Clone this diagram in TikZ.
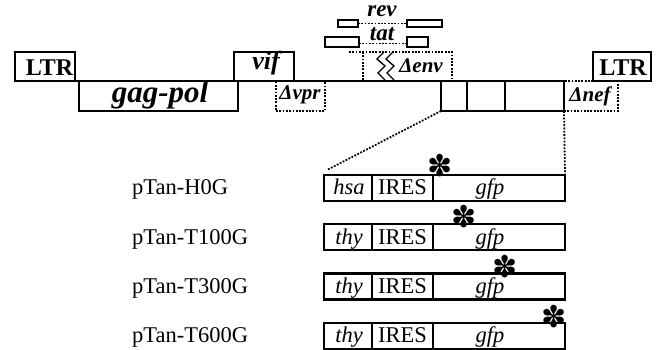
\documentclass[tikz,border=0pt]{standalone}
\usepackage{fontspec}
\setmainfont{Liberation Serif}
\newfontfamily\symfont{DejaVu Sans}
\newcommand\boxat[6]{\node[#6, minimum width={#4-#2}, minimum height={#5-#3}] (#1) at ({(#2+#4)/2},{(#3+#5)/2}) {};}
\begin{document}
\begin{tikzpicture}[x=1pt,y=-1pt,
  gbox/.style={draw, line width=2.3pt, inner sep=0pt, outer sep=0pt},
  sbox/.style={draw, line width=1.7pt, inner sep=0pt, outer sep=0pt},
  dbox/.style={draw, line width=1.8pt, dash pattern=on 1.8pt off 1.5pt, inner sep=0pt, outer sep=0pt},
  dotline/.style={line width=1.8pt, dash pattern=on 1.8pt off 1.5pt},
  txt/.style={inner sep=0pt, anchor=base, font=\fontsize{22.5}{24}\selectfont},
  gene/.style={inner sep=0pt, anchor=base, font=\fontsize{#1}{#1}\selectfont\bfseries\itshape},
  star/.style={inner sep=0pt, font=\symfont\fontsize{30}{30}\selectfont},
]
\useasboundingbox (0,0) rectangle (662,350);
% dotted deletion boxes (drawn first)
\boxat{vpr}{276}{81}{325}{111}{dbox}
\boxat{nef}{564}{81}{618}{111}{dbox}
% env region
\coordinate (envA) at (349,52);
\coordinate (envB) at (452,52);
\coordinate (envC) at (452,81);
\coordinate (envD) at (363,52);
\coordinate (envE) at (363,81);
\draw[dotline] (envA) -- (envB) -- (envC);
\draw[dotline] (envD) -- (envE);
% zigzags
\draw[line width=1.4pt] (384,52) -- (377,59) -- (385,66) -- (378,73) -- (385,80);
\draw[line width=1.4pt] (393,52) -- (386,59) -- (394,66) -- (387,73) -- (394,80);
% rev / tat
\boxat{revL}{338}{20}{358}{27}{sbox}
\boxat{revR}{407}{20}{442}{27}{sbox}
\boxat{tatL}{325}{37}{359}{47}{sbox}
\boxat{tatR}{407}{37}{428}{47}{sbox}
\draw[dotline] (revL.east) -- (revR.west);
\draw[dotline] ([yshift=-1.5pt]tatL.east) -- ([yshift=-1.5pt]tatR.west);
\node[gene=23] (trev) at (382,17) {rev};
\node[gene=23] (ttat) at (382,41) {tat};
% genome boxes
\boxat{ltrL}{15}{52}{75}{81}{gbox}
\boxat{gag}{79}{81}{238}{111}{gbox}
\boxat{vif}{234}{52}{294}{81}{gbox}
\boxat{cA}{441}{81}{467}{111}{gbox}
\boxat{cB}{467}{81}{505}{111}{gbox}
\boxat{cC}{505}{81}{564}{111}{gbox}
\boxat{ltrR}{593}{52}{651}{81}{gbox}
\draw[line width=2.3pt] (ltrL.south west) -- (cC.north east);
\node[txt, font=\fontsize{24}{24}\selectfont\bfseries] (tltrL) at (49.5,76) {LTR};
\node[txt, font=\fontsize{24}{24}\selectfont\bfseries] (tltrR) at (623,76) {LTR};
\node[gene=31] (tgag) at (160,103) {gag-pol};
\node[gene=26] (tvif) at (266,70) {vif};
\node[gene=21] (tvpr) at (300,100) {Δvpr};
\node[gene=21] (tenv) at (421,73) {Δenv};
\node[gene=21] (tnef) at (590,102) {Δnef};
% constructs
\foreach \i/\g/\nm/\sx in {0/hsa/pTan-H0G/440, 1/thy/pTan-T100G/464, 2/thy/pTan-T300G/505, 3/thy/pTan-T600G/554}{
  \pgfmathsetmacro\top{175+49.3*\i}
  \pgfmathsetmacro\bot{\top+26}
  \pgfmathsetmacro\base{195+49.3*\i}
  \pgfmathsetmacro\sy{166+50.3*\i}
  \boxat{r\i a}{324}{\top}{372}{\bot}{gbox}
  \boxat{r\i b}{372}{\top}{433}{\bot}{gbox}
  \boxat{r\i c}{433}{\top}{565}{\bot}{gbox}
  \node[txt, anchor=base west] (lab\i) at (132,\base) {\nm};
  \node[txt, font=\fontsize{22.5}{24}\selectfont\itshape] (ta\i) at (349,\base) {\g};
  \node[txt] (tb\i) at (402.5,\base) {IRES};
  \node[txt, font=\fontsize{22.5}{24}\selectfont\itshape] (tc\i) at (490,\base) {gfp};
  \node[star] (s\i) at (\sx,\sy) {✽};
}
% connectors to construct
\coordinate (dEnd) at (327,170);
\draw[dotline] (cA.south west) -- (dEnd);
\draw[dotline] (cC.south east) -- (r0c.north east);
\end{tikzpicture}
\end{document}
